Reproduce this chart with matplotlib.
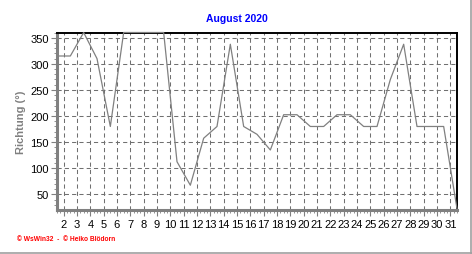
import matplotlib
matplotlib.use("Agg")
import matplotlib.pyplot as plt
from matplotlib.ticker import MultipleLocator, FixedLocator
from matplotlib.lines import Line2D

days = list(range(1, 32))
direction = [315, 315, 360, 310, 180, 360, 360, 360, 360, 112.5, 67.5,
             157.5, 180, 337.5, 180, 165, 135, 202.5, 202.5, 180, 180,
             202.5, 202.5, 180, 180, 270, 337.5, 180, 180, 180, 22.5]
tick_days = list(range(2, 32))
yticks = [50, 100, 150, 200, 250, 300, 350]
title = "August 2020"
ylabel = "Richtung (°)"
footer = "© WsWin32  -  © Heiko Blödorn"

plt.rcParams['font.family'] = ['Liberation Sans', 'DejaVu Sans']

fig = plt.figure(figsize=(4.72, 2.55), dpi=100)
ax = fig.add_axes([57 / 472, 1 - 210.5 / 255, 400 / 472, (210.5 - 33.5) / 255])

xs = [d + 0.5 for d in days]
ax.plot(xs, direction, color='#808080', linewidth=0.9, zorder=3, clip_on=False)

ax.set_xlim(1.5, 31.5)
ax.set_ylim(21, 360)

ax.xaxis.set_major_locator(FixedLocator(tick_days))
ax.xaxis.set_minor_locator(MultipleLocator(0.25))
ax.set_xticklabels([str(d) for d in tick_days])
ax.yaxis.set_major_locator(FixedLocator(yticks))
ax.yaxis.set_minor_locator(MultipleLocator(10))

ax.grid(True, which='major', color='#707070', linestyle=(0, (4, 3)), linewidth=0.75)

for s in ['left', 'bottom']:
    ax.spines[s].set_color('#808080')
    ax.spines[s].set_linewidth(2.2)
for s in ['top', 'right']:
    ax.spines[s].set_color('black')
    ax.spines[s].set_linewidth(1.4)

ax.tick_params(axis='both', which='major', direction='out', length=4, width=0.8,
               color='#808080', labelsize=8, labelcolor='black')
ax.tick_params(axis='both', which='minor', direction='out', length=2, width=0.6,
               color='#808080')
ax.tick_params(axis='x', which='major', pad=3)
ax.tick_params(axis='y', which='major', pad=2)

ax.set_ylabel(ylabel, color='#808080', fontsize=8, fontweight='bold')
ax.yaxis.set_label_coords(-0.077, 0.5)

fig.text(236.5 / 472, 1 - 19 / 255, title, color='#0000ff', fontsize=7.5,
         fontweight='bold', ha='center', va='center')
fig.text(17 / 472, 1 - 240 / 255, footer, color='#ff0000', fontsize=4.8,
         fontweight='bold', ha='left', va='center')

# grey frame on right and bottom edges
fig.add_artist(Line2D([0, 471.5 / 472], [1.5 / 255, 1.5 / 255], transform=fig.transFigure,
                      color='#a0a0a0', linewidth=1.2))
fig.add_artist(Line2D([470.5 / 472, 470.5 / 472], [0, 1], transform=fig.transFigure,
                      color='#a0a0a0', linewidth=1.2))

fig.savefig("out.png", dpi=100)
